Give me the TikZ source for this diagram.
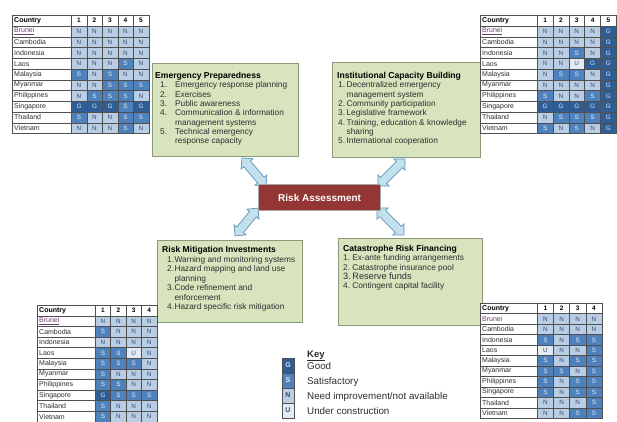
\documentclass[tikz,border=0pt]{standalone}
\usepackage{fontspec}
\setmainfont{Liberation Sans}
\usetikzlibrary{shapes.arrows,calc}
\definecolor{colG}{HTML}{2F5D95}
\definecolor{colS}{HTML}{4F81BD}
\definecolor{colN}{HTML}{B9CDE5}
\definecolor{colU}{HTML}{E2EAF4}
\definecolor{txtG}{HTML}{DCE6F2}
\definecolor{txtS}{HTML}{E6EEF7}
\definecolor{txtN}{HTML}{3A4A66}
\definecolor{txtU}{HTML}{3A4A66}
\definecolor{tline}{HTML}{505050}
\definecolor{bru}{HTML}{6E3F6E}
\definecolor{gfill}{HTML}{D7E4BD}
\definecolor{gline}{HTML}{8A9A78}
\definecolor{rafill}{HTML}{943634}
\definecolor{raline}{HTML}{A6A6A6}
\definecolor{afill}{HTML}{C2E1EC}
\definecolor{aline}{HTML}{5F93BF}
\definecolor{itxt}{HTML}{2E2E2E}
\tikzset{
  tcell/.style={draw=tline, line width=0.5pt, inner sep=0pt},
  tval/.style={tcell, font=\fontsize{6.3}{6.3}\selectfont},
  thead/.style={tcell, fill=white, font=\fontsize{6.5}{6.5}\selectfont\bfseries},
  ctxt/.style={inner sep=0pt, font=\fontsize{7}{7}\selectfont, text=itxt},
  gbox/.style={draw=gline, fill=gfill, line width=1.2pt, inner sep=0pt},
  btxt/.style={inner sep=0pt, text=itxt, font=\fontsize{8.3}{9.3}\selectfont},
  rabox/.style={draw=raline, fill=rafill, line width=1.3pt, text=white,
    font=\fontsize{10}{10}\selectfont\bfseries, inner sep=0pt},
  barrow/.style={double arrow, draw=aline, fill=afill, line width=0.7pt,
    inner xsep=0pt, inner ysep=4pt, double arrow head extend=3.5pt},
  kbox/.style={draw=tline, line width=0.5pt, inner sep=0pt, minimum width=12pt,
    minimum height=15pt, font=\fontsize{7}{7}\selectfont\bfseries},
  ktxt/.style={inner sep=0pt, text=itxt, font=\fontsize{9.8}{10}\selectfont},
}
\newcommand{\titlef}{\fontsize{8.6}{9.3}\selectfont\bfseries\color{black}}
% #1 prefix, #2 x0, #3 y0, #4 country width, #5 col width, #6 row height, #7 ncols, #8 rows
\newcommand{\ctab}[8]{%
  \node[thead, minimum width=#4, minimum height=#6, anchor=north west] (#1-0-0) at (#2,#3) {};
  \node[ctxt, font=\fontsize{7}{7}\selectfont\bfseries, text=black, anchor=west] (#1-0-n) at ([xshift=2pt]#1-0-0.west) {Country};
  \foreach \cc in {1,...,#7} {
    \node[thead, minimum width=#5, minimum height=#6, anchor=north west] (#1-0-\cc) at ({#2+#4+(\cc-1)*#5},#3) {\cc};
  }
  \foreach \nm/\vals [count=\rr] in {#8} {
    \node[tcell, fill=white, minimum width=#4, minimum height=#6, anchor=north west] (#1-\rr-0) at (#2,{#3+\rr*#6}) {};
    \node[ctxt, anchor=west] (#1-\rr-n) at ([xshift=2pt]#1-\rr-0.west) {\nm};
    \foreach \v [count=\cc] in \vals {
      \node[tval, fill=col\v, text=txt\v, minimum width=#5, minimum height=#6, anchor=north west] (#1-\rr-\cc) at ({#2+#4+(\cc-1)*#5},{#3+\rr*#6}) {\v};
    }
  }
}
\begin{document}
\begin{tikzpicture}[x=1pt,y=-1pt]
\useasboundingbox (0,0) rectangle (617,421);
\fill[white] (0,0) rectangle (617,421);

% green boxes
\node[gbox, minimum width=146, minimum height=93, anchor=north west] (ep) at (152,63) {};
\node[gbox, minimum width=148, minimum height=95, anchor=north west] (ic) at (332,62) {};
\node[gbox, minimum width=145, minimum height=82, anchor=north west] (rm) at (157,240) {};
\node[gbox, minimum width=144, minimum height=87, anchor=north west] (crf) at (338,238) {};

\node[btxt, anchor=base west] (ept) at (155,78) {\begin{tabular}[t]{@{\hspace{5pt}}l@{\hspace{8pt}}l@{}}
\multicolumn{2}{@{}l@{}}{\titlef Emergency Preparedness}\\[0.6pt]
1. & Emergency response planning\\
2. & Exercises\\
3. & Public awareness\\
4. & Communication \& information\\
   & management systems\\
5. & Technical emergency\\
   & response capacity
\end{tabular}};

\node[btxt, anchor=base west] (ict) at (337,78) {\begin{tabular}[t]{@{\hspace{1pt}}l@{\hspace{1.5pt}}l@{}}
\multicolumn{2}{@{}l@{}}{\titlef Institutional Capacity Building}\\[0.6pt]
1. & Decentralized emergency\\
   & management system\\
2. & Community participation\\
3. & Legislative framework\\
4. & Training, education \& knowledge\\
   & sharing\\
5. & International cooperation
\end{tabular}};

\node[btxt, font=\fontsize{8.3}{9.5}\selectfont, anchor=base west] (rmt) at (162,252) {\begin{tabular}[t]{@{\hspace{5pt}}l@{\hspace{0.5pt}}l@{}}
\multicolumn{2}{@{}l@{}}{\titlef Risk Mitigation Investments}\\[0.6pt]
1. & Warning and monitoring systems\\
2. & Hazard mapping and land use\\
   & planning\\
3. & Code refinement and\\
   & enforcement\\
4. & Hazard specific risk mitigation
\end{tabular}};

\node[btxt, font=\fontsize{8.3}{9.3}\selectfont, anchor=base west] (crft) at (343,251) {\begin{tabular}[t]{@{}l@{\hspace{1.5pt}}l@{}}
\multicolumn{2}{@{}l@{}}{\titlef Catastrophe Risk Financing}\\[0.6pt]
1. & Ex-ante funding arrangements\\
2. & Catastrophe insurance pool\\
\fontsize{9.2}{9.3}\selectfont 3. & \fontsize{9.2}{9.3}\selectfont Reserve funds\\
4. & Contingent capital facility
\end{tabular}};

% arrows
\coordinate (a1s) at (242,158); \coordinate (a1e) at (266,186);
\coordinate (a2s) at (405,159); \coordinate (a2e) at (378,186);
\coordinate (a3s) at (258,208); \coordinate (a3e) at (235,236);
\coordinate (a4s) at (377,208); \coordinate (a4e) at (404,235);
\path (a1s) -- node[barrow, sloped, minimum height=37pt] (arr1) {} (a1e);
\path (a2s) -- node[barrow, sloped, minimum height=38pt] (arr2) {} (a2e);
\path (a3s) -- node[barrow, sloped, minimum height=36pt] (arr3) {} (a3e);
\path (a4s) -- node[barrow, sloped, minimum height=38pt] (arr4) {} (a4e);

% risk assessment
\node[rabox, minimum width=122, minimum height=26, anchor=north west] (ra) at (258,184) {Risk Assessment};

% tables
\ctab{ta}{12}{15}{59}{15.5}{10.75}{5}{%
{\textcolor{bru}{\underline{Brunei}}}/{N,N,N,N,N},
Cambodia/{N,N,N,N,N},
Indonesia/{N,N,N,N,N},
Laos/{N,N,N,S,N},
Malaysia/{S,N,S,N,N},
Myanmar/{N,N,S,S,S},
Philippines/{N,S,S,S,N},
Singapore/{G,G,G,S,G},
Thailand/{S,N,N,S,S},
Vietnam/{N,N,N,S,N}}

\ctab{tb}{480}{15}{57}{15.8}{10.75}{5}{%
{\textcolor{bru}{\underline{Brunei}}}/{N,N,N,N,G},
Cambodia/{N,N,N,N,G},
Indonesia/{N,N,S,N,G},
Laos/{N,N,U,G,G},
Malaysia/{N,S,S,N,G},
Myanmar/{N,N,N,N,G},
Philippines/{S,N,N,S,G},
Singapore/{G,G,G,G,G},
Thailand/{N,S,S,S,G},
Vietnam/{S,N,S,N,G}}

\ctab{tc}{37}{305}{58}{15.4}{10.6}{4}{%
{\textcolor{bru}{\underline{Brunei}}}/{N,N,N,N},
Cambodia/{S,N,N,N},
Indonesia/{N,N,N,N},
Laos/{S,S,U,N},
Malaysia/{S,S,S,N},
Myanmar/{S,N,N,N},
Philippines/{S,S,N,N},
Singapore/{G,S,S,S},
Thailand/{S,N,N,N},
Vietnam/{S,N,N,N}}

\ctab{td}{480}{303}{57}{16.2}{10.45}{4}{%
{\textcolor{bru}{Brunei}}/{N,N,N,N},
Cambodia/{N,N,N,N},
Indonesia/{S,N,S,S},
Laos/{U,N,N,S},
Malaysia/{S,N,S,S},
Myanmar/{S,S,N,S},
Philippines/{S,N,S,S},
Singapore/{S,N,S,S},
Thailand/{N,N,N,S},
Vietnam/{N,N,S,S}}

% key
\node[inner sep=0pt, font=\fontsize{9.5}{10}\selectfont\bfseries, text=itxt, anchor=base west] (keyt) at (307,357) {\underline{Key}};
\node[kbox, fill=colG, text=txtG] (kG) at (288,365.5) {G};
\node[kbox, fill=colS, text=txtS] (kS) at (288,380.5) {S};
\node[kbox, fill=colN, text=txtN] (kN) at (288,395.5) {N};
\node[kbox, fill=colU, text=txtU] (kU) at (288,410.5) {U};
\node[ktxt, anchor=base west] (kGt) at (307,369) {Good};
\node[ktxt, anchor=base west] (kSt) at (307,384) {Satisfactory};
\node[ktxt, anchor=base west] (kNt) at (307,399) {Need improvement/not available};
\node[ktxt, anchor=base west] (kUt) at (307,414) {Under construction};
\end{tikzpicture}
\end{document}
